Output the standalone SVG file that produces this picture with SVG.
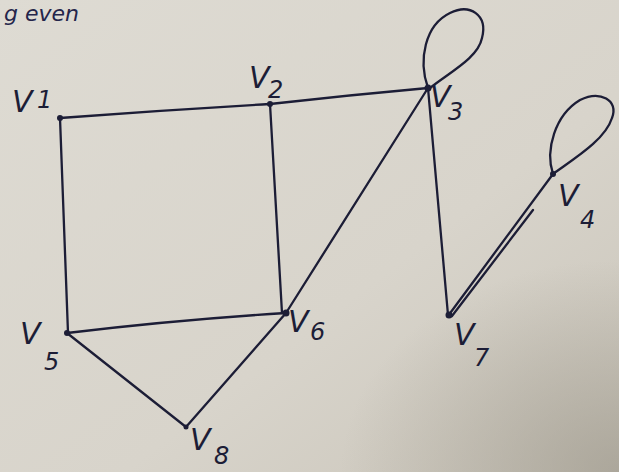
<svg xmlns="http://www.w3.org/2000/svg" width="619" height="472" viewBox="0 0 619 472">
<defs>
<linearGradient id="paper" x1="0" y1="0" x2="1" y2="1">
<stop offset="0" stop-color="#dedbd3"/>
<stop offset="0.6" stop-color="#d8d4cb"/>
<stop offset="1" stop-color="#c9c4b9"/>
</linearGradient>
<radialGradient id="shade" cx="1" cy="1" r="0.45">
<stop offset="0" stop-color="#9f9a8e" stop-opacity="0.7"/>
<stop offset="1" stop-color="#9f9a8e" stop-opacity="0"/>
</radialGradient>
<style>
.e{fill:none;stroke:#1c1d36;stroke-width:2.3;stroke-linecap:round;stroke-linejoin:round}
.d{fill:#1c1d36}
.l{fill:#1c1d36;font-family:"DejaVu Sans",sans-serif;font-style:oblique}
.v{font-size:30px}
.s{font-size:24px}
.t{fill:#24254a;font-family:"DejaVu Sans",sans-serif;font-style:oblique;font-size:22px}
</style>
</defs>
<rect width="619" height="472" fill="url(#paper)"/>
<rect width="619" height="472" fill="url(#shade)"/>
<g id="top-text">
<text class="t" x="4" y="21">g even</text>
</g>
<g id="connectors">
<path class="e" d="M60,118 Q165,110 270,104"/>
<path class="e" d="M270,104 Q350,95 428,88"/>
<path class="e" d="M60,118 L68,333"/>
<path class="e" d="M270,104 L282,313"/>
<path class="e" d="M67,333 Q175,320 286,313"/>
<path class="e" d="M67,333 L186,427"/>
<path class="e" d="M186,427 L286,313"/>
<path class="e" d="M286,313 L428,88"/>
<path class="e" d="M428,88 L448,315"/>
<path class="e" d="M448,316 L553,174"/>
<path class="e" d="M452,316 L533,210"/>
<path class="e" d="M428,88 C418,60 425,25 450,13 C470,3 488,15 482,38 C478,58 450,72 430,88"/>
<path class="e" d="M553,174 C545,150 555,115 580,100 C600,90 619,100 612,118 C605,140 575,158 553,174"/>
</g>
<g id="v1"><circle class="d" cx="60" cy="118" r="3"/><text class="l v" x="12" y="112">V</text><text class="l s" x="37" y="108">1</text></g>
<g id="v2"><circle class="d" cx="270" cy="104" r="3"/><text class="l v" x="249" y="88">V</text><text class="l s" x="268" y="98">2</text></g>
<g id="v3"><circle class="d" cx="428" cy="88" r="3.5"/><text class="l v" x="430" y="107">V</text><text class="l s" x="448" y="120">3</text></g>
<g id="v4"><circle class="d" cx="553" cy="174" r="3"/><text class="l v" x="558" y="206">V</text><text class="l s" x="580" y="228">4</text></g>
<g id="v5"><circle class="d" cx="67" cy="333" r="3"/><text class="l v" x="20" y="344">V</text><text class="l s" x="44" y="370">5</text></g>
<g id="v6"><circle class="d" cx="286" cy="313" r="3.5"/><text class="l v" x="288" y="332">V</text><text class="l s" x="310" y="340">6</text></g>
<g id="v7"><circle class="d" cx="449" cy="315" r="3.5"/><text class="l v" x="454" y="345">V</text><text class="l s" x="474" y="366">7</text></g>
<g id="v8"><circle class="d" cx="186" cy="427" r="2.5"/><text class="l v" x="190" y="450">V</text><text class="l s" x="214" y="464">8</text></g>
</svg>
